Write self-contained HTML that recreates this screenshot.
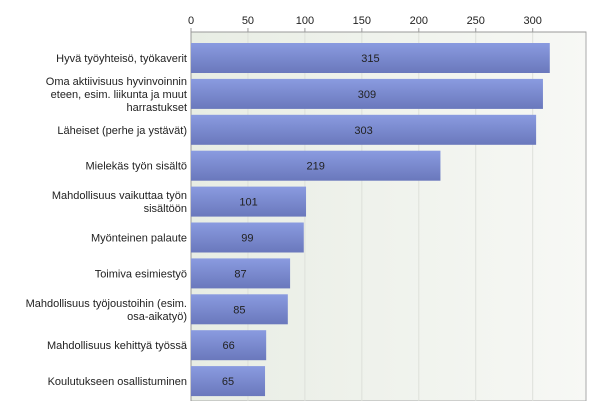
<!DOCTYPE html>
<html><head><meta charset="utf-8"><style>
body{margin:0;background:#fff;font-family:"Liberation Sans",sans-serif}
svg text{font-family:"Liberation Sans",sans-serif;font-size:11px;fill:#222}
</style></head><body>
<svg id="c" width="600" height="401">
<defs>
<linearGradient id="bg" x1="0" x2="1"><stop offset="0" stop-color="#e8ede4"/><stop offset="1" stop-color="#f7f8f5"/></linearGradient>
<linearGradient id="bar" x1="0" y1="0" x2="0" y2="1"><stop offset="0" stop-color="#8a9be0"/><stop offset="1" stop-color="#6a78bc"/></linearGradient>
</defs>
</svg>
<script>
const categories=[["Hyvä työyhteisö, työkaverit"],["Oma aktiivisuus hyvinvoinnin","eteen, esim. liikunta ja muut","harrastukset"],["Läheiset (perhe ja ystävät)"],["Mielekäs työn sisältö"],["Mahdollisuus vaikuttaa työn","sisältöön"],["Myönteinen palaute"],["Toimiva esimiestyö"],["Mahdollisuus työjoustoihin (esim.","osa-aikatyö)"],["Mahdollisuus kehittyä työssä"],["Koulutukseen osallistuminen"]];
const values=[315,309,303,219,101,99,87,85,66,65];
const ticks=[0,50,100,150,200,250,300];
const svg=document.getElementById('c');const NS='http://www.w3.org/2000/svg';
const x0=191,x1=586,plotTop=32,scale=341.7/300,band=35.9,firstY=43,bh=30;
const X=v=>x0+v*scale;
function mk(t,a,p){const e=document.createElementNS(NS,t);for(const k in a)e.setAttribute(k,a[k]);(p||svg).appendChild(e);return e;}
const bgr=mk('rect',{x:x0,y:plotTop,width:x1-x0,height:401-plotTop,fill:'url(#bg)',stroke:'#aaa'});


ticks.forEach(t=>{
 const g=mk('line',{x1:X(t),x2:X(t),y1:plotTop,y2:401,stroke:'#dde0da'});
 
 
 const tk=mk('line',{x1:X(t),x2:X(t),y1:plotTop-4,y2:plotTop,stroke:'#999'});
 
 
 const tx=mk('text',{x:X(t),y:plotTop-8,'text-anchor':'middle'});tx.textContent=t;
 
 
});
mk('line',{x1:x0,x2:x1,y1:plotTop,y2:plotTop,stroke:'#999'});
mk('line',{x1:x0,x2:x0,y1:plotTop,y2:401,stroke:'#999'});
values.forEach((v,i)=>{
 const y=firstY+i*band;
 const r=mk('rect',{x:x0,y:y,width:X(v)-x0,height:bh,fill:'url(#bar)'});
 
 
 const vt=mk('text',{x:(x0+X(v))/2,y:y+bh/2+4,'text-anchor':'middle'});vt.textContent=v;
 
 
 const lines=categories[i];const cy=y+bh/2;
 const lt=mk('text',{'text-anchor':'end'});
 
 
 lines.forEach((s,j)=>{const ts=mk('tspan',{x:x0-4,y:cy+4+(j-(lines.length-1)/2)*13},lt);ts.textContent=s;});
});
</script>
</body></html>
